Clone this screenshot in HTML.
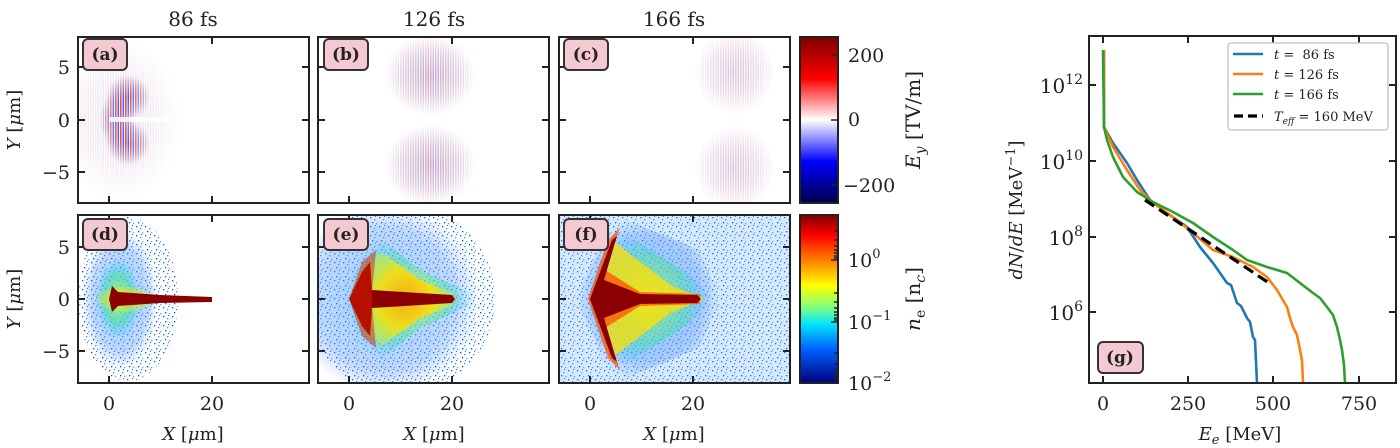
<!DOCTYPE html>
<html><head><meta charset="utf-8"><style>body{margin:0;background:#fff}svg{display:block}text{font-family:"DejaVu Serif","Liberation Serif",serif;fill:#222}</style></head><body>
<svg width="1400" height="448" viewBox="0 0 1400 448" xmlns="http://www.w3.org/2000/svg">
<defs>
<pattern id="rb" width="5" height="10" patternUnits="userSpaceOnUse"><rect x="0" width="1.6" height="10" fill="#e01010"/><rect x="2.5" width="1.6" height="10" fill="#1030e0"/></pattern>
<pattern id="dots" width="9" height="9" patternUnits="userSpaceOnUse"><rect x="1" y="1" width="1.3" height="1.3" fill="#1050ff"/><rect x="5" y="3" width="1.3" height="1.3" fill="#20a0ff"/><rect x="3" y="6" width="1.3" height="1.3" fill="#1040e0"/><rect x="7" y="7" width="1.3" height="1.3" fill="#30c0ff"/><rect x="6" y="0" width="1" height="1" fill="#2060ff"/></pattern>
<radialGradient id="fade"><stop offset="0" stop-color="#fff" stop-opacity="0.75"/><stop offset="0.6" stop-color="#fff" stop-opacity="0.4"/><stop offset="1" stop-color="#fff" stop-opacity="0"/></radialGradient>
<mask id="mA" maskUnits="userSpaceOnUse" x="0" y="0" width="1400" height="448"><ellipse cx="128" cy="97" rx="22" ry="22" fill="url(#fade)"/><ellipse cx="128" cy="143" rx="22" ry="22" fill="url(#fade)"/><ellipse cx="118" cy="120" rx="18" ry="30" fill="url(#fade)"/><ellipse cx="120" cy="120" rx="60" ry="80" fill="url(#fade)" opacity="0.2"/></mask>
<mask id="mB" maskUnits="userSpaceOnUse" x="0" y="0" width="1400" height="448"><ellipse cx="430" cy="75" rx="45" ry="40" fill="url(#fade)" opacity="0.55"/><ellipse cx="430" cy="165" rx="45" ry="40" fill="url(#fade)" opacity="0.55"/></mask>
<mask id="mC" maskUnits="userSpaceOnUse" x="0" y="0" width="1400" height="448"><ellipse cx="735" cy="72" rx="40" ry="42" fill="url(#fade)" opacity="0.35"/><ellipse cx="735" cy="168" rx="40" ry="42" fill="url(#fade)" opacity="0.35"/></mask>
<linearGradient id="seis" x1="0" y1="0" x2="0" y2="1"><stop offset="0" stop-color="#7f0000"/><stop offset="0.25" stop-color="#ff0000"/><stop offset="0.5" stop-color="#ffffff"/><stop offset="0.75" stop-color="#0000ff"/><stop offset="1" stop-color="#00004c"/></linearGradient>
<linearGradient id="jet" x1="0" y1="0" x2="0" y2="1"><stop offset="0" stop-color="#800000"/><stop offset="0.12" stop-color="#ff0000"/><stop offset="0.3" stop-color="#ff9900"/><stop offset="0.42" stop-color="#ffff00"/><stop offset="0.55" stop-color="#80ff80"/><stop offset="0.65" stop-color="#00e5ff"/><stop offset="0.8" stop-color="#0060ff"/><stop offset="1" stop-color="#000080"/></linearGradient>
<radialGradient id="blu"><stop offset="0" stop-color="#40b0ff" stop-opacity="0.55"/><stop offset="0.75" stop-color="#5090ff" stop-opacity="0.35"/><stop offset="1" stop-color="#5090ff" stop-opacity="0"/></radialGradient>
<radialGradient id="grn"><stop offset="0" stop-color="#d8ff40" stop-opacity="0.9"/><stop offset="0.6" stop-color="#40e0a0" stop-opacity="0.6"/><stop offset="1" stop-color="#20c0ff" stop-opacity="0"/></radialGradient>
<radialGradient id="yel"><stop offset="0" stop-color="#ffa000"/><stop offset="0.5" stop-color="#ffe000"/><stop offset="0.85" stop-color="#b0f060" stop-opacity="0.8"/><stop offset="1" stop-color="#40d0d0" stop-opacity="0"/></radialGradient>
<clipPath id="cA"><rect x="78" y="37" width="231" height="166"/></clipPath>
<clipPath id="cB"><rect x="318" y="37" width="231" height="166"/></clipPath>
<clipPath id="cC"><rect x="559" y="37" width="231" height="166"/></clipPath>
<clipPath id="cD"><rect x="78" y="215" width="231" height="168"/></clipPath>
<clipPath id="cE"><rect x="318" y="215" width="231" height="168"/></clipPath>
<clipPath id="cF"><rect x="559" y="215" width="231" height="168"/></clipPath>
<clipPath id="cG"><rect x="1089" y="36" width="307" height="347"/></clipPath>
</defs>

<g font-size="20" text-anchor="middle">
<text x="193" y="26">86 fs</text><text x="434" y="26">126 fs</text><text x="674" y="26">166 fs</text>
</g>

<g clip-path="url(#cA)"><rect x="78" y="37" width="231" height="166" fill="url(#rb)" mask="url(#mA)"/><rect x="109" y="117" width="60" height="5" fill="#fff" opacity="0.85"/></g>
<g clip-path="url(#cB)"><rect x="318" y="37" width="231" height="166" fill="url(#rb)" mask="url(#mB)"/></g>
<g clip-path="url(#cC)"><rect x="559" y="37" width="231" height="166" fill="url(#rb)" mask="url(#mC)"/></g>

<!-- d -->
<g clip-path="url(#cD)">
<ellipse cx="128" cy="299" rx="50" ry="82" fill="url(#dots)"/>
<ellipse cx="120" cy="299" rx="38" ry="70" fill="url(#blu)"/>
<ellipse cx="118" cy="299" rx="22" ry="40" fill="url(#grn)"/>
<ellipse cx="125" cy="299" rx="30" ry="14" fill="url(#yel)" opacity="0.6"/>
<polygon points="109,299 112,286 118,292 160,295 212,297 212,302 160,303 118,306 112,312" fill="#8b0000"/>
</g>
<!-- e -->
<g clip-path="url(#cE)">
<ellipse cx="400" cy="299" rx="95" ry="95" fill="url(#dots)"/>
<ellipse cx="385" cy="299" rx="95" ry="95" fill="url(#blu)"/>
<polygon points="345,299 368,228 420,270 475,295 475,303 420,328 368,370" fill="url(#grn)" opacity="0.8"/>
<polygon points="350,299 365,240 420,280 460,296 460,302 420,318 365,358" fill="url(#yel)" opacity="0.85"/>
<polygon points="349,299 362,272 370,262 372,290 452,295 455,299 452,303 372,308 370,336 362,326" fill="#8b0000"/>
<polygon points="349,299 362,262 376,250 372,292 372,306 376,348 362,336" fill="#e02000" opacity="0.5"/>
</g>
<!-- f -->
<g clip-path="url(#cF)">
<rect x="559" y="215" width="231" height="168" fill="url(#dots)"/>
<rect x="559" y="215" width="231" height="168" fill="#60a8ff" opacity="0.25"/>
<polygon points="575,299 615,215 700,250 720,299 700,348 615,383" fill="url(#blu)"/>
<polygon points="585,299 612,225 690,275 712,299 690,323 612,373" fill="url(#grn)" opacity="0.8"/>
<polygon points="590,299 612,240 670,285 705,299 670,313 612,358" fill="#ffe000" opacity="0.75"/>
<polygon points="588,299 608,240 620,228 605,270 640,292 700,294 700,304 640,306 605,328 620,370 608,358" fill="#ff5000" opacity="0.75"/>
<polygon points="590,299 612,240 617,236 604,280 640,294 697,295 701,299 697,303 640,304 604,318 617,362 612,358" fill="#8b0000"/>
</g>

<g fill="none" stroke="#222" stroke-width="2">
<rect x="78" y="37" width="231" height="166"/><rect x="318" y="37" width="231" height="166"/><rect x="559" y="37" width="231" height="166"/>
<rect x="78" y="215" width="231" height="168"/><rect x="318" y="215" width="231" height="168"/><rect x="559" y="215" width="231" height="168"/>
<path d="M109,37v7M212,37v7M109,203v-7M212,203v-7M349,37v7M452,37v7M349,203v-7M452,203v-7M590,37v7M693,37v7M590,203v-7M693,203v-7
M78,67h7M78,120h7M78,172h7M309,67h-7M309,120h-7M309,172h-7M318,67h7M318,120h7M318,172h7M549,67h-7M549,120h-7M549,172h-7M559,67h7M559,120h7M559,172h7M790,67h-7M790,120h-7M790,172h-7
M109,215v7M212,215v7M109,383v-7M212,383v-7M349,215v7M452,215v7M349,383v-7M452,383v-7M590,215v7M693,215v7M590,383v-7M693,383v-7
M78,247h7M78,299h7M78,351h7M309,247h-7M309,299h-7M309,351h-7M318,247h7M318,299h7M318,351h7M549,247h-7M549,299h-7M549,351h-7M559,247h7M559,299h7M559,351h7M790,247h-7M790,299h-7M790,351h-7"/>
</g>
<g font-weight="bold" font-size="17" text-anchor="middle">
<rect x="83" y="39" width="44" height="31" rx="5" fill="#f5c9d1" stroke="#333" stroke-width="2"/><text x="105" y="60">(a)</text>
<rect x="324" y="39" width="44" height="31" rx="5" fill="#f5c9d1" stroke="#333" stroke-width="2"/><text x="346" y="60">(b)</text>
<rect x="564" y="39" width="44" height="31" rx="5" fill="#f5c9d1" stroke="#333" stroke-width="2"/><text x="586" y="60">(c)</text>
<rect x="83" y="219" width="44" height="31" rx="5" fill="#f5c9d1" stroke="#333" stroke-width="2"/><text x="105" y="240">(d)</text>
<rect x="324" y="219" width="44" height="31" rx="5" fill="#f5c9d1" stroke="#333" stroke-width="2"/><text x="346" y="240">(e)</text>
<rect x="564" y="219" width="44" height="31" rx="5" fill="#f5c9d1" stroke="#333" stroke-width="2"/><text x="586" y="240">(f)</text>
<rect x="1098" y="342" width="45" height="31" rx="5" fill="#f5c9d1" stroke="#333" stroke-width="2"/><text x="1120" y="363">(g)</text>
</g>

<g font-size="19" text-anchor="end">
<text x="70" y="74">5</text><text x="70" y="127">0</text><text x="70" y="179">−5</text>
<text x="70" y="254">5</text><text x="70" y="306">0</text><text x="70" y="358">−5</text>
</g>
<text transform="translate(20,120) rotate(-90)" font-size="18" text-anchor="middle"><tspan font-style="italic">Y</tspan> [<tspan font-style="italic">μ</tspan>m]</text>
<text transform="translate(20,299) rotate(-90)" font-size="18" text-anchor="middle"><tspan font-style="italic">Y</tspan> [<tspan font-style="italic">μ</tspan>m]</text>
<g font-size="19" text-anchor="middle">
<text x="109" y="410">0</text><text x="212" y="410">20</text>
<text x="349" y="410">0</text><text x="452" y="410">20</text>
<text x="590" y="410">0</text><text x="693" y="410">20</text>
</g>
<g font-size="18" text-anchor="middle">
<text x="193" y="440"><tspan font-style="italic">X</tspan> [<tspan font-style="italic">μ</tspan>m]</text>
<text x="434" y="440"><tspan font-style="italic">X</tspan> [<tspan font-style="italic">μ</tspan>m]</text>
<text x="674" y="440"><tspan font-style="italic">X</tspan> [<tspan font-style="italic">μ</tspan>m]</text>
</g>

<rect x="800" y="37" width="38" height="166" fill="url(#seis)" stroke="#222" stroke-width="2"/>
<rect x="800" y="215" width="38" height="168" fill="url(#jet)" stroke="#222" stroke-width="2"/>
<g stroke="#222" stroke-width="1.5"><path d="M838,55h-7M838,120h-7M838,185h-7M838,260h-7M838,322h-7"/><path d="M838,231h-4M838,240h-4M838,246h-4M838,250h-4M838,253h-4M838,256h-4M838,258h-4M838,293h-4M838,302h-4M838,308h-4M838,312h-4M838,315h-4M838,318h-4M838,320h-4M838,353h-4M838,364h-4M838,370h-4M838,374h-4M838,377h-4M838,380h-4"/></g>
<g font-size="19">
<text x="848" y="62">200</text><text x="848" y="126">0</text><text x="843" y="192">−200</text>
<text x="848" y="267">10<tspan dy="-9" font-size="13">0</tspan></text>
<text x="848" y="329">10<tspan dy="-9" font-size="13">−1</tspan></text>
<text x="848" y="390">10<tspan dy="-9" font-size="13">−2</tspan></text>
</g>
<text transform="translate(920,120) rotate(-90)" font-size="20" text-anchor="middle"><tspan font-style="italic">E</tspan><tspan font-size="14" dy="5" font-style="italic">y</tspan><tspan dy="-5"> [TV/m]</tspan></text>
<text transform="translate(920,299) rotate(-90)" font-size="20" text-anchor="middle"><tspan font-style="italic">n</tspan><tspan font-size="14" dy="5">e</tspan><tspan dy="-5"> [n</tspan><tspan font-size="14" dy="5" font-style="italic">c</tspan><tspan dy="-5">]</tspan></text>

<g clip-path="url(#cG)" fill="none" stroke-width="2.6" stroke-linejoin="round">
<polyline stroke="#1f77b4" points="1104,50 1104,127 1113,143 1127,163 1137,180 1150,200 1167,213 1187,227 1200,247 1213,263 1227,283 1231,285 1237,303 1241,306 1247,318 1250,322 1253,337 1255,340 1257,383"/>
<polyline stroke="#ff7f0e" points="1104,50 1104,127 1113,147 1127,170 1140,190 1153,203 1173,217 1193,233 1213,250 1233,257 1253,267 1267,277 1277,290 1287,307 1290,318 1293,327 1297,335 1300,350 1302,360 1303,383"/>
<polyline stroke="#2ca02c" points="1103,50 1104,127 1107,140 1113,157 1123,177 1137,192 1153,202 1173,212 1193,223 1213,237 1233,250 1247,260 1267,267 1287,273 1300,283 1313,293 1320,298 1327,307 1333,315 1337,327 1340,340 1342,350 1344,365 1345,383"/>
<line x1="1145" y1="200" x2="1272" y2="285" stroke="#000" stroke-width="3.2" stroke-dasharray="11,6"/>
</g>
<rect x="1089" y="36" width="307" height="347" fill="none" stroke="#222" stroke-width="2"/>
<g stroke="#222" stroke-width="2"><path d="M1103,36v7M1188,36v7M1273,36v7M1359,36v7M1103,383v-7M1188,383v-7M1273,383v-7M1359,383v-7M1089,85h7M1089,161h7M1089,237h7M1089,312h7M1396,85h-7M1396,161h-7M1396,237h-7M1396,312h-7"/></g>
<g font-size="19" text-anchor="middle">
<text x="1103" y="410">0</text><text x="1188" y="410">250</text><text x="1273" y="410">500</text><text x="1359" y="410">750</text>
</g>
<text x="1240" y="440" font-size="18" text-anchor="middle"><tspan font-style="italic">E</tspan><tspan font-size="13" dy="4" font-style="italic">e</tspan><tspan dy="-4"> [MeV]</tspan></text>
<g font-size="20" text-anchor="end">
<text x="1083" y="93">10<tspan dy="-9" font-size="14">12</tspan></text>
<text x="1083" y="169">10<tspan dy="-9" font-size="14">10</tspan></text>
<text x="1083" y="245">10<tspan dy="-9" font-size="14">8</tspan></text>
<text x="1083" y="320">10<tspan dy="-9" font-size="14">6</tspan></text>
</g>
<text transform="translate(1022,210) rotate(-90)" font-size="18" text-anchor="middle"><tspan font-style="italic">dN</tspan>/<tspan font-style="italic">dE</tspan> [MeV<tspan dy="-7" font-size="13">−1</tspan><tspan dy="7">]</tspan></text>
<rect x="1228" y="43" width="160" height="87" rx="3" fill="#fff" stroke="#ccc" stroke-width="1.5"/>
<g stroke-width="2.6"><line x1="1233" y1="54" x2="1263" y2="54" stroke="#1f77b4"/><line x1="1233" y1="74" x2="1263" y2="74" stroke="#ff7f0e"/><line x1="1233" y1="94" x2="1263" y2="94" stroke="#2ca02c"/><line x1="1234" y1="116" x2="1263" y2="116" stroke="#000" stroke-width="3.2" stroke-dasharray="9,5"/></g>
<g font-size="13">
<text x="1274" y="59" xml:space="preserve"><tspan font-style="italic">t</tspan> =  86 fs</text>
<text x="1274" y="79"><tspan font-style="italic">t</tspan> = 126 fs</text>
<text x="1274" y="99"><tspan font-style="italic">t</tspan> = 166 fs</text>
<text x="1274" y="121"><tspan font-style="italic">T</tspan><tspan font-size="9" dy="3" font-style="italic">eff</tspan><tspan dy="-3"> = 160 MeV</tspan></text>
</g>
</svg>
</body></html>
